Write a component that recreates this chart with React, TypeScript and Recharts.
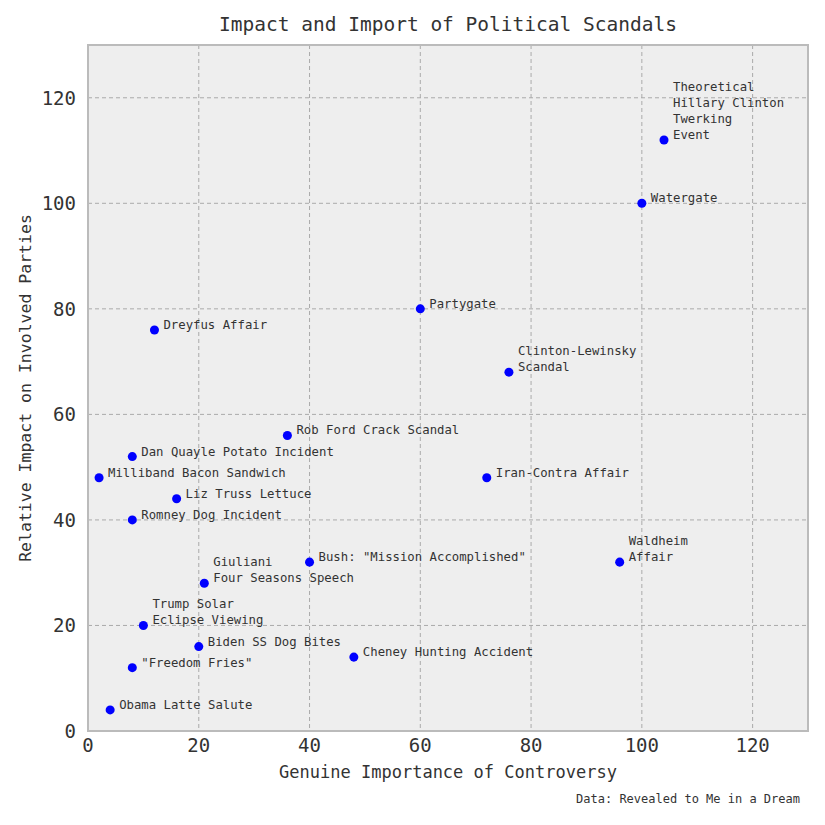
import { ScatterChart, Scatter, XAxis, YAxis, CartesianGrid, ReferenceArea, LabelList } from 'recharts';

const names: string[][] = [
  ['Theoretical', 'Hillary Clinton', 'Twerking', 'Event'],
  ['Watergate'],
  ['Partygate'],
  ['Dreyfus Affair'],
  ['Clinton-Lewinsky', 'Scandal'],
  ['Rob Ford Crack Scandal'],
  ['Dan Quayle Potato Incident'],
  ['Milliband Bacon Sandwich'],
  ['Iran-Contra Affair'],
  ['Liz Truss Lettuce'],
  ['Romney Dog Incident'],
  ['Bush: "Mission Accomplished"'],
  ['Waldheim', 'Affair'],
  ['Giuliani', 'Four Seasons Speech'],
  ['Trump Solar', 'Eclipse Viewing'],
  ['Biden SS Dog Bites'],
  ['Cheney Hunting Accident'],
  ['"Freedom Fries"'],
  ['Obama Latte Salute'],
];
const importance = [104, 100, 60, 12, 76, 36, 8, 2, 72, 16, 8, 40, 96, 21, 10, 20, 48, 8, 4];
const impact = [112, 100, 80, 76, 68, 56, 52, 48, 48, 44, 40, 32, 32, 28, 20, 16, 14, 12, 4];
const ticks = [0, 20, 40, 60, 80, 100, 120];

const data = names.map((n, i) => ({ x: importance[i], y: impact[i], idx: i }));
const font = '"DejaVu Sans Mono", monospace';

const PointLabel = (props: any) => {
  const { x, y, width, height, index } = props;
  const cx = x + width / 2;
  const cy = y + height / 2;
  const lines = names[index];
  return (
    <text fontFamily={font} fontSize={12.3} fill="#333" dominantBaseline="middle">
      {lines.map((l, i) => (
        <tspan key={i} x={cx + 9} y={cy - 5 - 16 * (lines.length - 1 - i)}>{l}</tspan>
      ))}
    </text>
  );
};

export default function App() {
  return (
    <div style={{ position: 'relative', width: 817, height: 817, fontFamily: font }}>
      <ScatterChart width={817} height={817} margin={{ top: 37, right: 17, left: 0, bottom: 0 }}>
        <CartesianGrid fill="#eeeeee" stroke="#aaaaaa" strokeDasharray="4 3" />
        <XAxis type="number" dataKey="x" domain={[0, 130]} ticks={ticks} height={94}
          tickLine={false} axisLine={false} tick={{ fontSize: 19, fill: '#333', fontFamily: font }} tickMargin={2} />
        <YAxis type="number" dataKey="y" domain={[0, 130]} ticks={ticks} width={80}
          tickLine={false} axisLine={false} tick={{ fontSize: 19, fill: '#333', fontFamily: font }} tickMargin={6} />
        <ReferenceArea x1={0} x2={130} y1={0} y2={130} fill="none" stroke="#bbbbbb" strokeWidth={2} fillOpacity={0} />
        <Scatter data={data} fill="#0000ff" isAnimationActive={false}>
          <LabelList dataKey="idx" content={PointLabel} />
        </Scatter>
      </ScatterChart>
      <div style={{ position: 'absolute', top: 5, left: 80, width: 720, textAlign: 'center', fontSize: 19.5, color: '#333' }}>
        Impact and Import of Political Scandals
      </div>
      <div style={{ position: 'absolute', top: 754, left: 80, width: 720, textAlign: 'center', fontSize: 17, color: '#333' }}>
        Genuine Importance of Controversy
      </div>
      <div style={{ position: 'absolute', top: 380, left: 17, width: 0, height: 0 }}>
        <div style={{ position: 'absolute', transform: 'translate(-50%,-50%) rotate(-90deg)', whiteSpace: 'nowrap', fontSize: 16.5, color: '#333' }}>
          Relative Impact on Involved Parties
        </div>
      </div>
      <div style={{ position: 'absolute', top: 784, right: 25, fontSize: 12, color: '#333' }}>
        Data: Revealed to Me in a Dream
      </div>
    </div>
  );
}
